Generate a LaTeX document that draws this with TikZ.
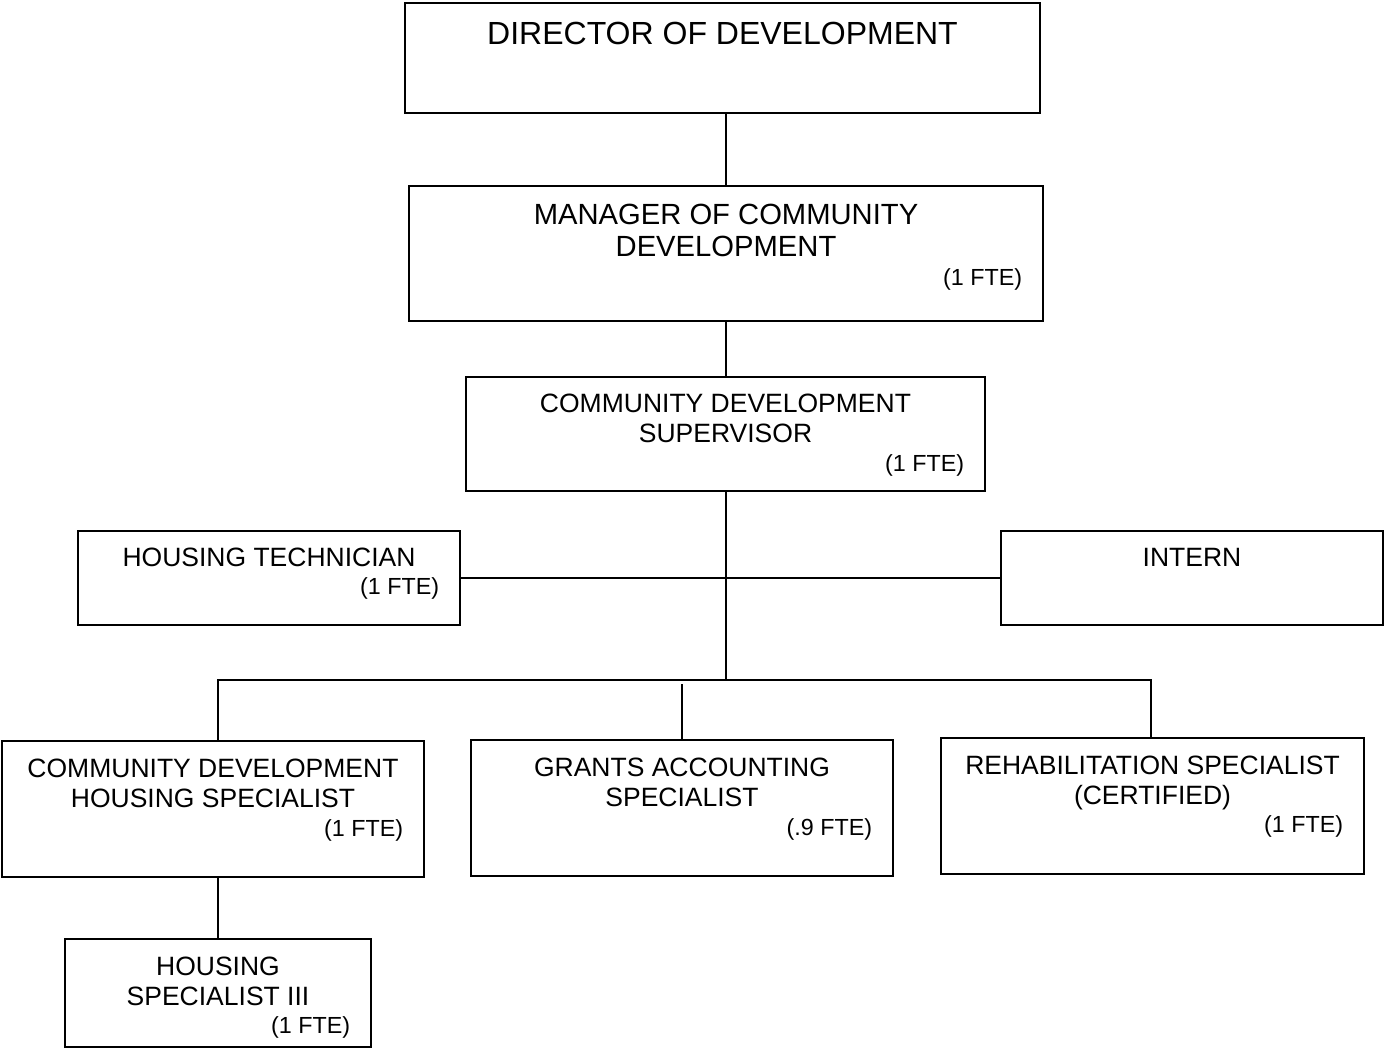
\documentclass[tikz,border=0pt]{standalone}
\usepackage{fontspec}
\setmainfont{Liberation Sans}
\usetikzlibrary{positioning}

\begin{document}
\begin{tikzpicture}[x=0.5pt, y=-0.5pt,
    post/.style={draw, line width=1pt, inner sep=0pt},
    title/.style={inner sep=0pt, align=center, font=\fontsize{13.25pt}{15pt}\selectfont},
    bigtitle/.style={font=\fontsize{14.6pt}{16pt}\selectfont},
    toptitle/.style={font=\fontsize{16pt}{19pt}\selectfont},
    ftelabel/.style={anchor=base east, inner sep=0pt, font=\fontsize{11.65pt}{14pt}\selectfont},
    link/.style={line width=1pt}]

    \useasboundingbox (0,0) rectangle (1384,1049);

    % box: [title style] name, x1, y1, x2, y2, drop of text (pt), text
    \newcommand{\postbox}[8][]{
        \pgfmathsetmacro\w{(#5-#3)/2}
        \pgfmathsetmacro\h{(#6-#4)/2}
        \node[post, minimum width=\w pt, minimum height=\h pt] (#2) at ({(#3+#5)/2}, {(#4+#6)/2}) {};
        \node[title, #1, below=#7pt of #2.north] (#2txt) {#8};
    }
    % fte: box name, drop of baseline (pt), text
    \newcommand{\fte}[3]{
        \node[ftelabel] (#1fte) at ([xshift=-10.75pt, yshift=-#2pt]#1.north east) {#3};
    }

    \postbox[toptitle]{dir}{405}{3}{1040}{113}{10}{DIRECTOR OF DEVELOPMENT}
    \postbox[bigtitle]{mgr}{409}{186}{1043}{321}{9.3}{MANAGER OF COMMUNITY\\DEVELOPMENT}
    \postbox{sup}{466}{377}{985}{491}{8.75}{COMMUNITY DEVELOPMENT\\SUPERVISOR}
    \postbox{tech}{78}{531}{460}{625}{8.75}{HOUSING TECHNICIAN}
    \postbox{intern}{1001}{531}{1383}{625}{8.75}{INTERN}
    \postbox{cdhs}{2}{741}{424}{877}{9.25}{COMMUNITY DEVELOPMENT\\HOUSING SPECIALIST}
    \postbox{grants}{471}{740}{893}{876}{9.25}{GRANTS ACCOUNTING\\SPECIALIST}
    \postbox{rehab}{941}{738}{1364}{874}{9.25}{REHABILITATION SPECIALIST\\(CERTIFIED)}
    \postbox{hs}{65}{939}{371}{1047}{9.25}{HOUSING\\SPECIALIST III}

    \fte{mgr}{50.2}{(1 FTE)}
    \fte{sup}{47.6}{(1 FTE)}
    \fte{tech}{32.2}{(1 FTE)}
    \fte{cdhs}{48.2}{(1 FTE)}
    \fte{grants}{48.2}{(.9 FTE)}
    \fte{rehab}{47.6}{(1 FTE)}
    \fte{hs}{47.6}{(1 FTE)}

    % connectors
    \path (sup.south) ++(0,188) coordinate (hub);
    \coordinate (busL) at (hub -| hs.north);
    \path (hub) ++(425.5,0) coordinate (busR);
    \path (hub -| grants.north) ++(0,4) coordinate (gtop);

    \draw[link] (sup.north |- dir.south) -- (sup.north |- mgr.north);
    \draw[link] (sup.north |- mgr.south) -- (sup.north);
    \draw[link] (sup.south) -- (hub);
    \draw[link] (tech.east) -- (intern.west);
    \draw[link] (cdhs.north -| busL) -- (busL) -- (busR) -- (busR |- rehab.north);
    \draw[link] (gtop) -- (grants.north);
    \draw[link] (cdhs.south -| hs.north) -- (hs.north);

\end{tikzpicture}
\end{document}
